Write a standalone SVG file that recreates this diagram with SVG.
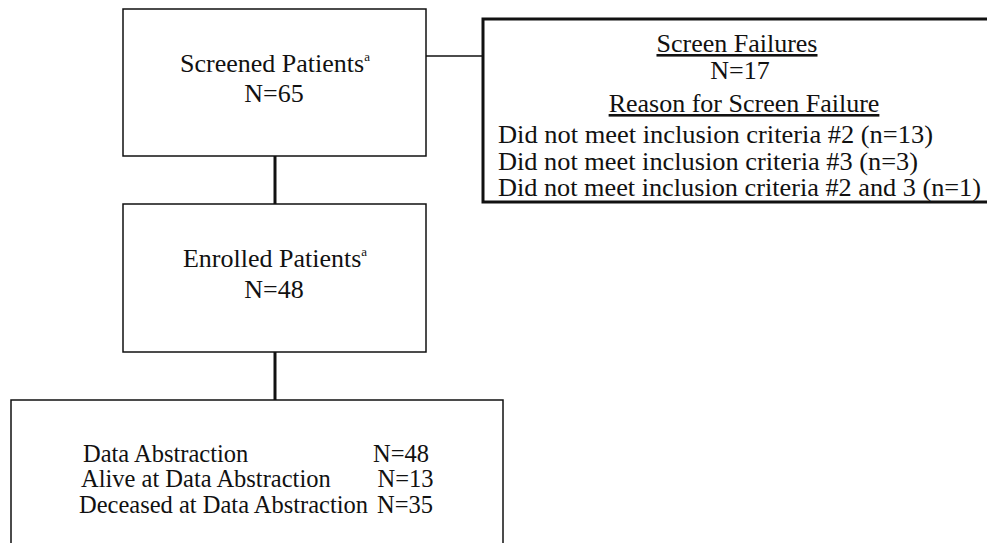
<svg xmlns="http://www.w3.org/2000/svg" width="987" height="543" viewBox="0 0 987 543">
<style>
.box{fill:#fff;stroke:#111;stroke-width:1.5}
.boxb{fill:#fff;stroke:#111;stroke-width:3}
.t{font-size:26px;fill:#111}
.l{font-size:24.5px;fill:#111}
.d{font-size:24.5px;fill:#111}
.c{text-anchor:middle}
.sup{font-size:13px}
.conn{stroke:#111;fill:none}
</style>
<rect width="987" height="543" fill="#fff"/>
<g id="connectors">
<line class="conn" x1="275" y1="156" x2="275" y2="204" stroke-width="3"/>
<line class="conn" x1="275" y1="352" x2="275" y2="400" stroke-width="3"/>
<line class="conn" x1="426" y1="56" x2="483" y2="56" stroke-width="1.5"/>
</g>
<g font-family="Liberation Serif, Times New Roman, DejaVu Serif, serif">
<g id="screened">
<rect class="box" x="123" y="9" width="303" height="147"/>
<text class="t c" x="275" y="72">Screened Patients<tspan class="sup" dy="-11">a</tspan></text>
<text class="t c" x="274" y="102">N=65</text>
</g>
<g id="enrolled">
<rect class="box" x="123" y="204" width="303" height="148"/>
<text class="t c" x="275" y="267">Enrolled Patients<tspan class="sup" dy="-11">a</tspan></text>
<text class="t c" x="274" y="298">N=48</text>
</g>
<g id="failures">
<rect class="boxb" x="483" y="19" width="520" height="183"/>
<text class="t c" x="737" y="52" text-decoration="underline">Screen Failures</text>
<text class="t c" x="740" y="79">N=17</text>
<text class="t c" x="744" y="112" text-decoration="underline">Reason for Screen Failure</text>
<text class="l" x="498" y="143" textLength="435" lengthAdjust="spacingAndGlyphs">Did not meet inclusion criteria #2 (n=13)</text>
<text class="l" x="498" y="169.5" textLength="420" lengthAdjust="spacingAndGlyphs">Did not meet inclusion criteria #3 (n=3)</text>
<text class="l" x="498" y="196" textLength="483" lengthAdjust="spacingAndGlyphs">Did not meet inclusion criteria #2 and 3 (n=1)</text>
</g>
<g id="abstraction">
<rect class="box" x="11" y="400" width="492" height="160"/>
<text class="d" x="83" y="461.5">Data Abstraction</text>
<text class="d" x="373" y="461.5">N=48</text>
<text class="d" x="81" y="487">Alive at Data Abstraction</text>
<text class="d" x="377.5" y="487">N=13</text>
<text class="d" x="79" y="512.5">Deceased at Data Abstraction</text>
<text class="d" x="377" y="512.5">N=35</text>
</g>
</g>
</svg>
